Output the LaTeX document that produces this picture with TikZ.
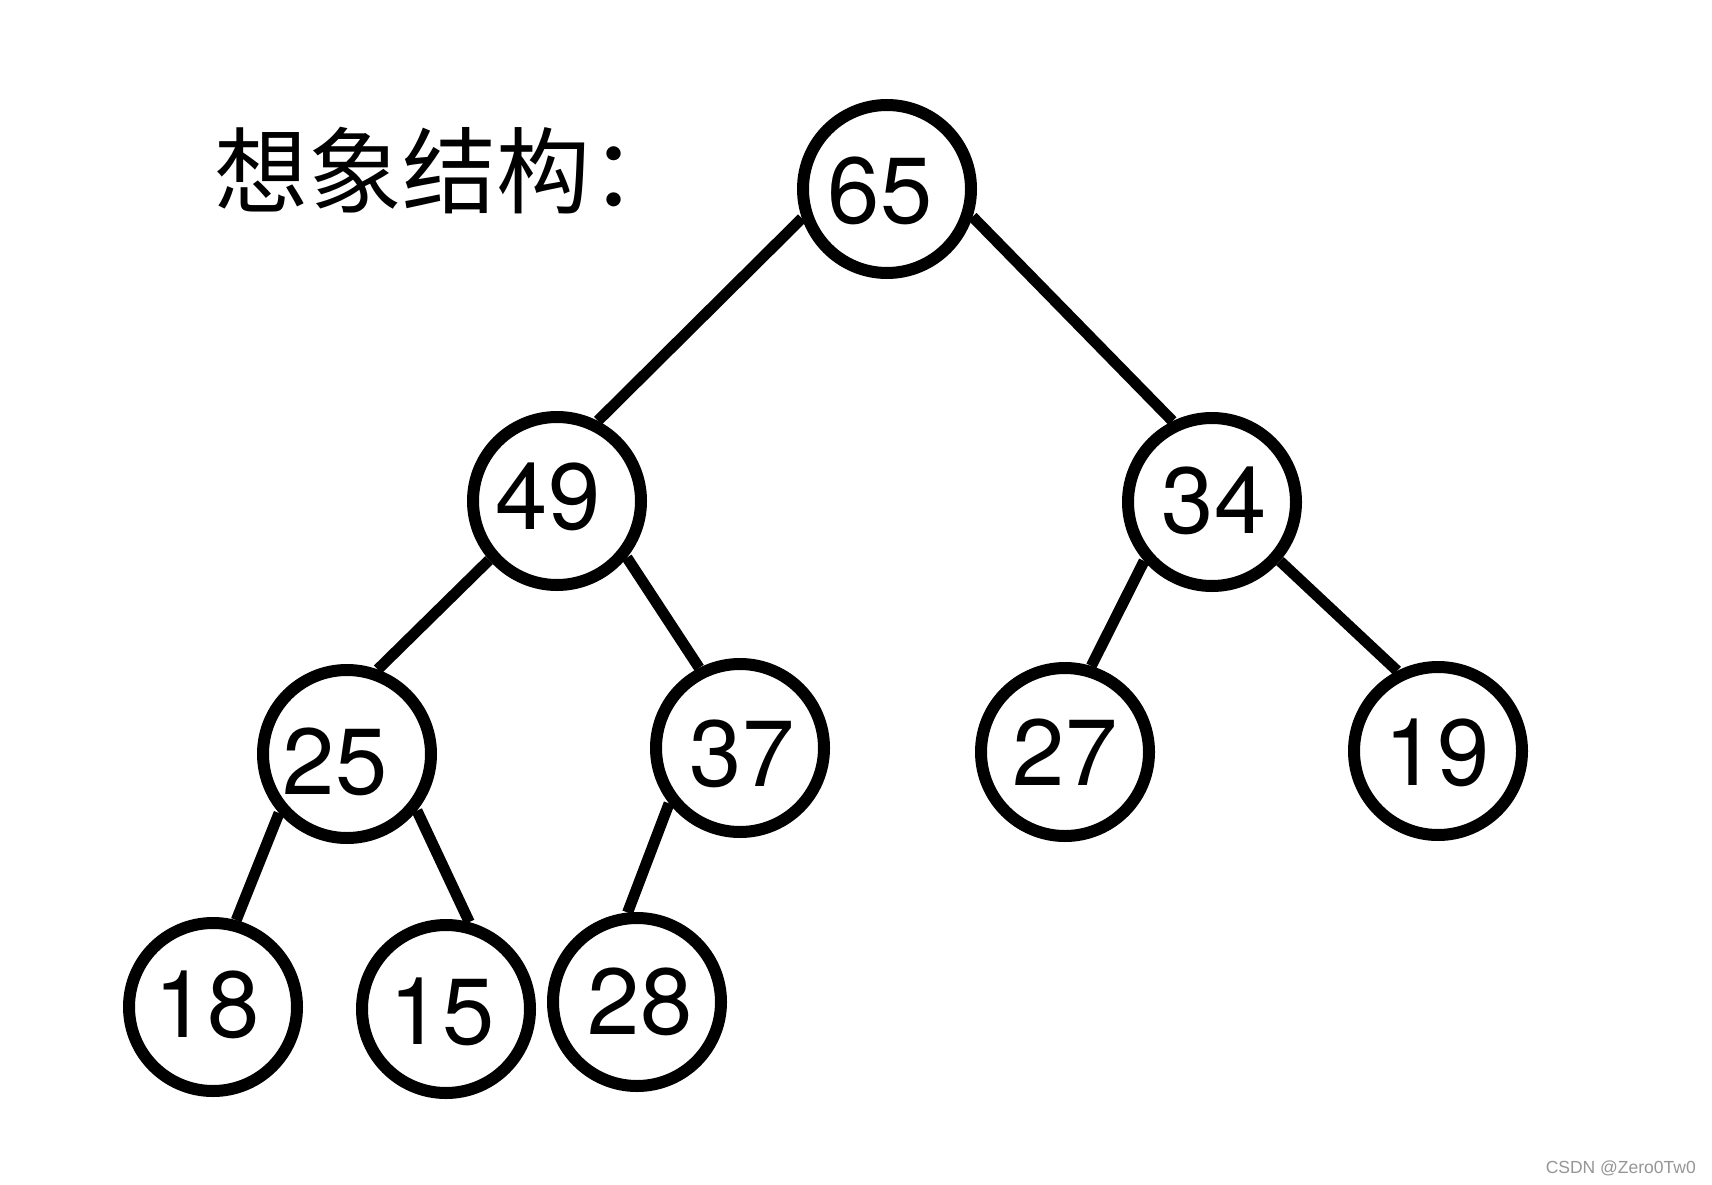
\documentclass[tikz,border=0pt]{standalone}
\usepackage{fontspec}
\setmainfont{TeX Gyre Heros}
\newfontfamily\cjk{Noto Sans CJK SC}
\newfontfamily\wmfont{Liberation Sans}
\newcommand\numtxt[3]{\raisebox{#2pt}[0pt][0pt]{\makebox[0pt]{\hspace{#1pt}\hspace{#1pt}#3}}}
\definecolor{wmgray}{RGB}{150,150,150}
\tikzset{
  nd/.style={circle, draw=black, fill=white, line width=12pt, minimum size=168pt, inner sep=0pt,
    font=\fontsize{94pt}{94pt}\selectfont},
  edge/.style={draw=black, line width=11pt}
}
\begin{document}
\begin{tikzpicture}[x=1pt,y=-1pt]
\path[use as bounding box, fill=white] (0,0) rectangle (1712,1185);
\node[nd] (n65) at (887,189)  {\numtxt{-7}{-34.3}{65}};
\node[nd] (n49) at (557,501)  {\numtxt{-9}{-28.3}{49}};
\node[nd] (n34) at (1212,502) {\numtxt{2}{-31.3}{34}};
\node[nd] (n25) at (347,754)  {\numtxt{-12}{-40.3}{25}};
\node[nd] (n37) at (740,748)  {\numtxt{2}{-38.3}{37}};
\node[nd] (n27) at (1065,752) {\numtxt{0}{-33.3}{27}};
\node[nd] (n19) at (1438,751) {\numtxt{-1}{-34.3}{19}};
\node[nd] (n18) at (213,1007) {\numtxt{-6}{-30.3}{18}};
\node[nd] (n15) at (446,1009) {\numtxt{-4}{-35.3}{15}};
\node[nd] (n28) at (637,1002) {\numtxt{3}{-32.3}{28}};
\draw[edge] (n65.199) -- (n49.63);
\draw[edge] (n65.342) -- (n34.116);
\draw[edge] (n49.221) -- (n25.70);
\draw[edge] (n49.321) -- (n37.117);
\draw[edge] (n34.221) -- (n27.73);
\draw[edge] (n34.319) -- (n19.117);
\draw[edge] (n25.221) -- (n18.75);
\draw[edge] (n25.321) -- (n15.75);
\draw[edge] (n37.218) -- (n28.96);
\node[anchor=base west, inner sep=0pt, font=\cjk\fontsize{94pt}{94pt}\selectfont] (title) at (214,206) {想象结构：};
\node[anchor=base east, inner sep=0pt, text=wmgray, font=\wmfont\fontsize{17.5pt}{18pt}\selectfont] (wm) at (1696,1173) {CSDN @Zero0Tw0};
\end{tikzpicture}
\end{document}
